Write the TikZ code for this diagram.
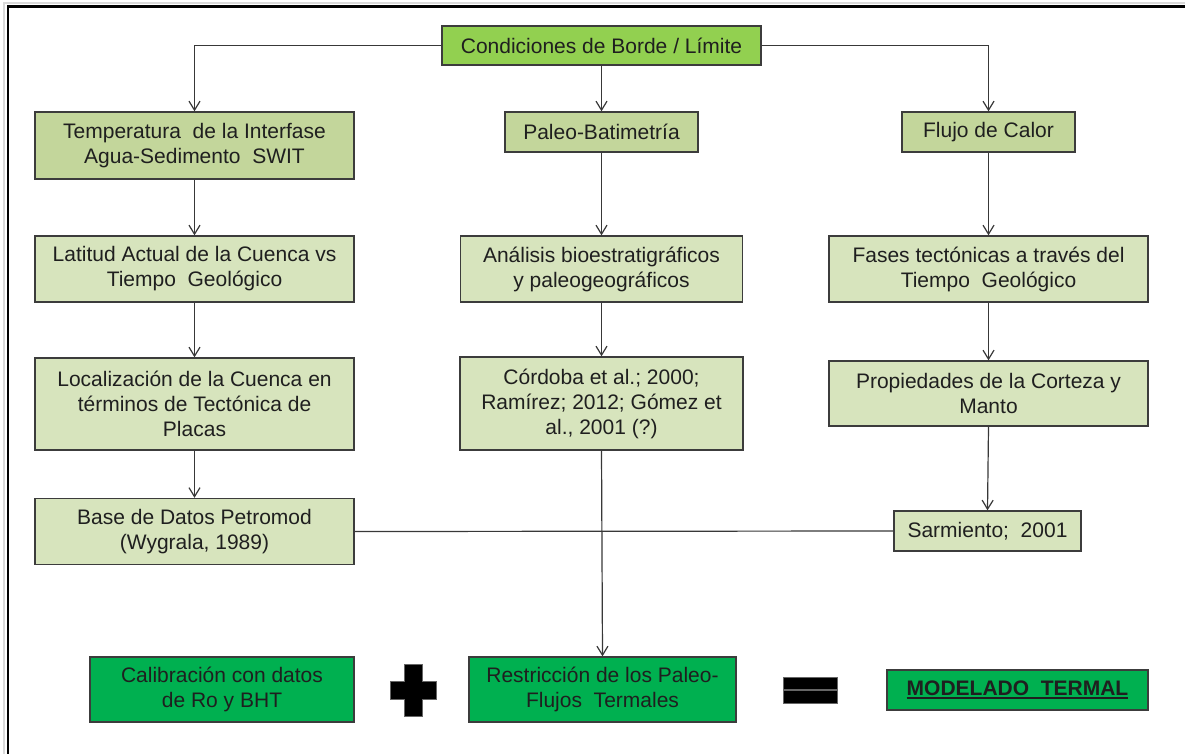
\documentclass[tikz,border=0pt]{standalone}
\usepackage{fontspec}
\setmainfont{Liberation Sans}
\usetikzlibrary{arrows.meta}
\definecolor{topgreen}{HTML}{92D050}
\definecolor{midgreen}{HTML}{C3D69B}
\definecolor{palegreen}{HTML}{D7E4BD}
\definecolor{boldgreen}{HTML}{00B050}
\definecolor{edgegray}{HTML}{3C3C3C}
% thick underline drawn below a box of text
\newsavebox{\ulbox}
\newcommand{\thickul}[1]{\sbox{\ulbox}{#1}\leavevmode\rlap{\rule[-3.6pt]{\wd\ulbox}{2.3pt}}\usebox{\ulbox}}
\begin{document}
\begin{tikzpicture}[x=1pt,y=-1pt,
  box/.style={draw=edgegray,line width=1.4pt,inner sep=0pt,align=center,
    text=black!88,font=\fontsize{21}{25}\selectfont},
  headbox/.style={box,fill=topgreen},
  levelbox/.style={box,fill=midgreen},
  infobox/.style={box,fill=palegreen},
  resultbox/.style={box,fill=boldgreen},
  link/.style={draw=black!78,line width=1.2pt},
  arrowlink/.style={link,-{Straight Barb[length=9pt,width=11pt,line width=1.2pt]}},
  sign/.style={fill=black,draw=black!60,line width=0.8pt}]
\useasboundingbox (0,0) rectangle (1185,754);
\fill[white] (0,0) rectangle (1185,754);
% outer frame
\draw[gray!30,line width=2pt] (4,754) -- (4,3) -- (1185,3);
\draw[black,line width=2.2pt] (8,754) -- (8,6.5) -- (1185,6.5);

% header
\node[headbox,minimum width=319pt,minimum height=39pt] (cond) at (601.5,45.5)
  {Condiciones de Borde / Límite};

% first level
\node[levelbox,minimum width=319pt,minimum height=67pt] (temp) at (194.5,145.5)
  {Temperatura \ de la Interfase\\Agua-Sedimento \ SWIT};
\node[levelbox,minimum width=193pt,minimum height=40pt] (paleo) at (601.5,132)
  {Paleo-Batimetría};
\node[levelbox,minimum width=173pt,minimum height=40pt] (flujo) at (988.5,132)
  {Flujo de Calor};

% second level
\node[infobox,minimum width=319pt,minimum height=66pt] (lat) at (194.5,269)
  {Latitud Actual de la Cuenca vs\\Tiempo \ Geológico};
\node[infobox,minimum width=282pt,minimum height=66pt] (anal) at (601.5,269)
  {Análisis bioestratigráficos\\y paleogeográficos};
\node[infobox,minimum width=319pt,minimum height=66pt] (fases) at (988.5,269)
  {Fases tectónicas a través del\\Tiempo \ Geológico};

% third level
\node[infobox,minimum width=319pt,minimum height=92pt] (loc) at (194.5,404)
  {Localización de la Cuenca en\\términos de Tectónica de\\Placas};
\node[infobox,minimum width=283pt,minimum height=93pt] (cord) at (601.5,403.5)
  {Córdoba et al.; 2000;\\Ramírez; 2012; Gómez et\\al., 2001 (?)};
\node[infobox,minimum width=319pt,minimum height=65pt] (prop) at (988.5,393.5)
  {Propiedades de la Corteza y\\Manto};

% fourth level
\node[infobox,minimum width=319pt,minimum height=66pt] (base) at (194.5,531.5)
  {Base de Datos Petromod\\(Wygrala, 1989)};
\node[infobox,minimum width=187pt,minimum height=40pt] (sarm) at (987.5,531)
  {Sarmiento; \ 2001};

% result row
\node[resultbox,minimum width=264pt,minimum height=65pt] (calib) at (222,689.5)
  {Calibración con datos\\de Ro y BHT};
\node[resultbox,minimum width=267pt,minimum height=65pt] (restr) at (602.5,689.5)
  {Restricción de los Paleo-\\Flujos \ Termales};
\node[resultbox,minimum width=261pt,minimum height=40pt] (model) at (1017.5,690)
  {\bfseries\thickul{MODELADO \ TERMAL}};

% plus and equals signs
\fill[sign] (404,664) -- (422,664) -- (422,681) -- (436,681) -- (436,699)
  -- (422,699) -- (422,716) -- (404,716) -- (404,699) -- (390,699)
  -- (390,681) -- (404,681) -- cycle;
\fill[sign] (783,677) rectangle (837,689.5);
\fill[sign] (783,690.5) rectangle (837,703);

% connectors
\draw[arrowlink] (cond.west) -| (temp.north);
\draw[arrowlink] (cond.east) -| (flujo.north);
\draw[arrowlink] (cond.south) -- (paleo.north);
\draw[arrowlink] (temp.south) -- (lat.north);
\draw[arrowlink] (lat.south) -- (loc.north);
\draw[arrowlink] (loc.south) -- (base.north);
\draw[arrowlink] (paleo.south) -- (anal.north);
\draw[arrowlink] (anal.south) -- (cord.north);
\draw[arrowlink] (cord.south) -- (restr.north);
\draw[arrowlink] (flujo.south) -- (fases.north);
\draw[arrowlink] (fases.south) -- (prop.north);
\draw[arrowlink] (prop.south) -- (sarm.north);
\draw[link] (base.east) -- (sarm.west);
\end{tikzpicture}
\end{document}
